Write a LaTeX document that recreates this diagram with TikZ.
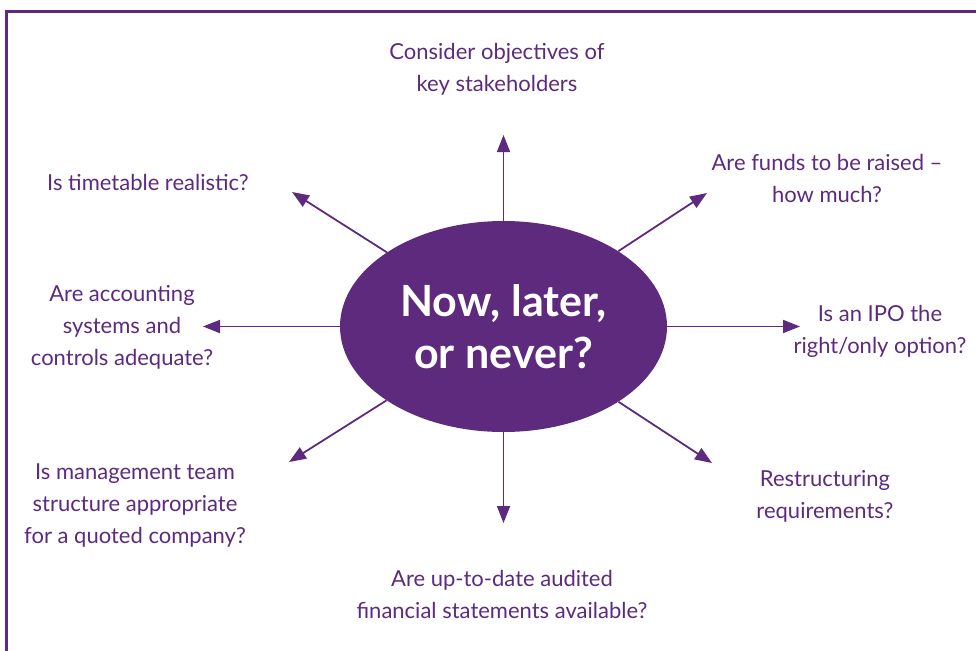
\documentclass[tikz,border=0pt]{standalone}
\usepackage{fontspec}
\setmainfont{Lato}
\usetikzlibrary{arrows.meta,shapes.geometric}
\definecolor{plum}{RGB}{93,42,126}
\begin{document}
\begin{tikzpicture}[x=1pt,y=-1pt,
  arr/.style={draw=plum,line width=1.8pt,-{Triangle[length=17pt,width=13pt]}},
  lbl/.style={text=plum,font=\fontsize{22}{32}\selectfont,align=center,inner sep=0pt},
  hub/.style={ellipse,fill=plum,minimum width=327pt,minimum height=211pt,inner sep=0pt,
    text=white,font=\fontsize{43}{52}\selectfont\bfseries,align=center}]
\useasboundingbox (0,0) rectangle (976,650);
\draw[plum,line width=3pt] (6,652) -- (6,12) -- (978,12);
\node[hub] (c) at (503.5,326.5) {Now, later,\\or never?};
\coordinate (tN) at (503.5,135);
\coordinate (tS) at (503.5,523);
\coordinate (tW) at (203,326.5);
\coordinate (tE) at (800,326.5);
\coordinate (tNW) at (292,192);
\coordinate (tNE) at (707,193);
\coordinate (tSW) at (289,462);
\coordinate (tSE) at (712,463);
\foreach \t in {tN,tS,tW,tE,tNW,tNE,tSW,tSE} \draw[arr] (c) -- (\t);
\node[lbl] (n) at (497,69) {Consider objectives of\\key stakeholders};
\node[lbl] (nw) at (148,182) {Is timetable realistic?};
\node[lbl] (ne) at (827,178) {Are funds to be raised --\\how much?};
\node[lbl] (w) at (122,327) {Are accounting\\systems and\\controls adequate?};
\node[lbl] (e) at (880,331) {Is an IPO the\\right/only option?};
\node[lbl] (sw) at (135,505) {Is management team\\structure appropriate\\for a quoted company?};
\node[lbl] (se) at (825,496) {Restructuring\\requirements?};
\node[lbl] (s) at (502,594) {Are up-to-date audited\\financial statements available?};
\end{tikzpicture}
\end{document}
